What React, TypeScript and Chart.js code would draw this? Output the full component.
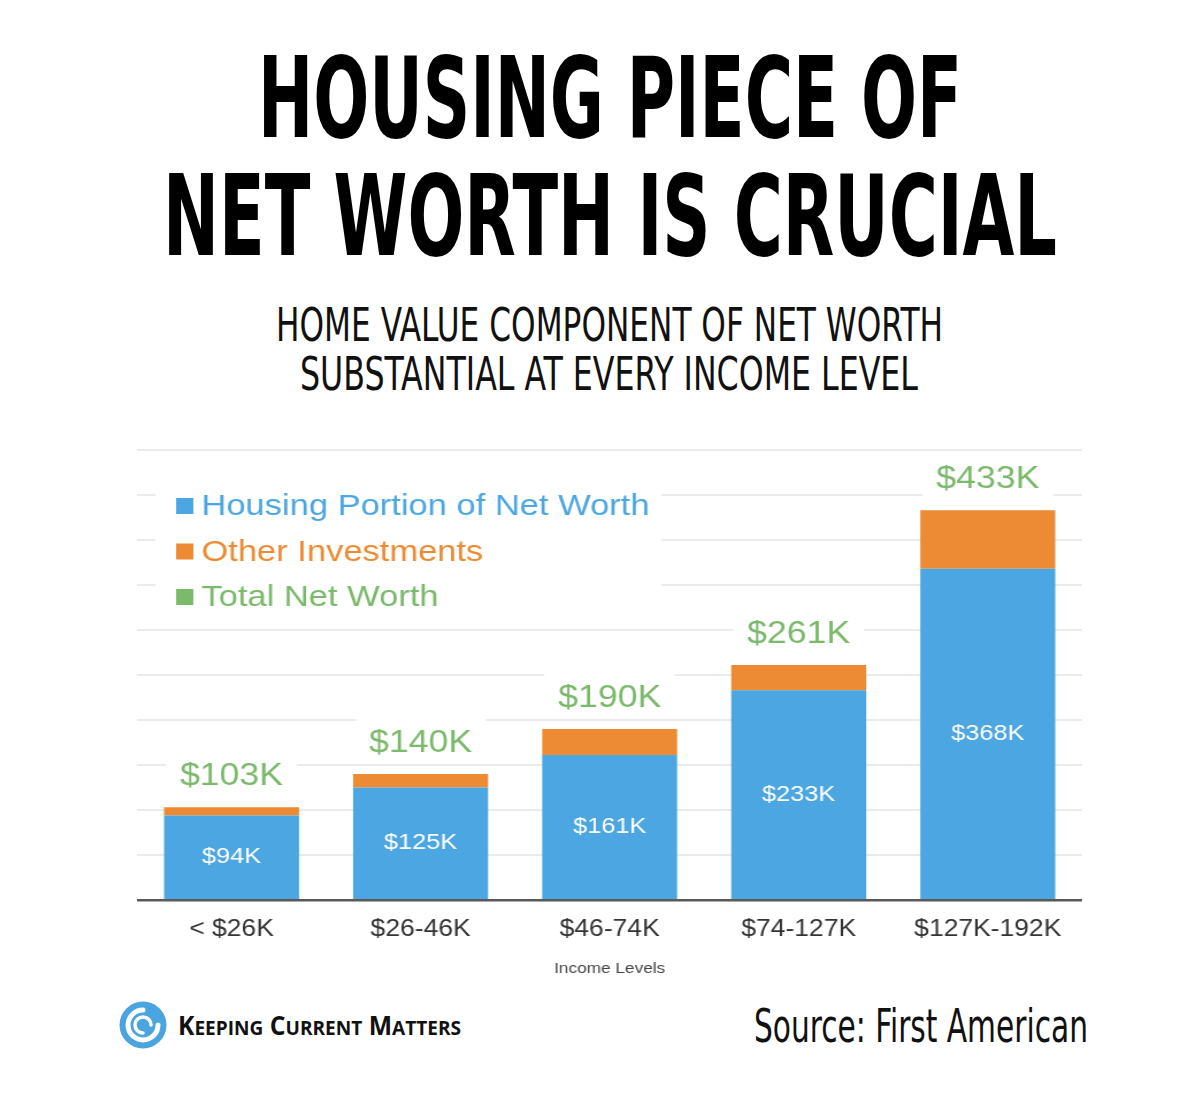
import React, { useEffect, useLayoutEffect, useRef } from "react";
import { Chart, registerables } from "chart.js";

Chart.register(...registerables);

// ---------------- data ----------------
const categories = ["< $26K", "$26-46K", "$46-74K", "$74-127K", "$127K-192K"];
const housingValues = [94, 125, 161, 233, 368];
const otherValues = [9, 15, 29, 28, 65];
const totalValues = [103, 140, 190, 261, 433];
const seriesNames = ["Housing Portion of Net Worth", "Other Investments", "Total Net Worth"];
const axisTitle = "Income Levels";
const yMin = 0;
const yMax = 500;
const yStep = 50;

const titleLines = ["HOUSING PIECE OF", "NET WORTH IS CRUCIAL"];
const subtitleLines = ["HOME VALUE COMPONENT OF NET WORTH", "SUBSTANTIAL AT EVERY INCOME LEVEL"];
const sourceText = "Source: First American";
const logoWords = ["Keeping", "Current", "Matters"];

// ---------------- styles ----------------
const BLUE = "#4ca6e2";
const ORANGE = "#ec8b34";
const GREEN = "#7bb96b";
const CHART_FONT = "'Liberation Sans', Arial, Helvetica, sans-serif";
const NARROW = "'Liberation Sans Narrow', 'DejaVu Sans Condensed', 'Liberation Sans', sans-serif";
const STRETCH = 1.15;

const fmtK = (v: number) => `$${v}K`;

const labelPlugin = {
  id: "kcmLabels",
  afterDatasetsDraw(chart: any) {
    const ctx = chart.ctx as CanvasRenderingContext2D;
    const area = chart.chartArea;
    ctx.save();

    // legend (inside plot, white backed)
    ctx.fillStyle = "#ffffff";
    ctx.fillRect(area.left + 16, area.top + 20, 440, 150);
    chart.data.datasets.forEach((ds: any, i: number) => {
      const cy = area.top + 56 + i * 45.5;
      ctx.fillStyle = ds.legendColor;
      ctx.fillRect(area.left + 34, cy - 8, 15, 16);
      ctx.font = `30px ${CHART_FONT}`;
      ctx.textBaseline = "middle";
      ctx.textAlign = "left";
      ctx.fillText(ds.label, area.left + 56, cy + 1);
    });

    // totals above stacks
    const totalMeta = chart.getDatasetMeta(2);
    const totalData = chart.data.datasets[2].data;
    totalMeta.data.forEach((pt: any, i: number) => {
      const txt = fmtK(totalData[i]);
      ctx.font = `31px ${CHART_FONT}`;
      const w = ctx.measureText(txt).width;
      const cy = pt.y - 31;
      ctx.fillStyle = "#ffffff";
      ctx.fillRect(pt.x - w / 2 - 12, cy - 27, w + 24, 45);
      ctx.fillStyle = GREEN;
      ctx.textAlign = "center";
      ctx.textBaseline = "middle";
      ctx.fillText(txt, pt.x, cy);
    });

    // housing values inside blue bars
    const hMeta = chart.getDatasetMeta(0);
    const hData = chart.data.datasets[0].data;
    hMeta.data.forEach((bar: any, i: number) => {
      const cy = (bar.y + bar.base) / 2;
      ctx.fillStyle = "#ffffff";
      ctx.font = `22px ${CHART_FONT}`;
      ctx.textAlign = "center";
      ctx.textBaseline = "middle";
      ctx.fillText(fmtK(hData[i]), bar.x, cy);
    });
    ctx.restore();
  },
};

function FitLine(props: {
  text: React.ReactNode;
  left: number;
  top: number;
  width: number;
  style: React.CSSProperties;
}) {
  const ref = useRef<HTMLDivElement>(null);
  useLayoutEffect(() => {
    const el = ref.current;
    if (!el) return;
    el.style.transform = "none";
    const w = el.getBoundingClientRect().width;
    if (w > 0) el.style.transform = `scaleX(${props.width / w})`;
  });
  return (
    <div
      ref={ref}
      style={{
        position: "absolute",
        left: props.left,
        top: props.top,
        whiteSpace: "nowrap",
        transformOrigin: "0 0",
        display: "inline-block",
        ...props.style,
      }}
    >
      {props.text}
    </div>
  );
}

function ChartBox() {
  const canvasRef = useRef<HTMLCanvasElement>(null);
  useEffect(() => {
    const canvas = canvasRef.current;
    if (!canvas) return;
    const chart = new Chart(canvas, {
      type: "bar",
      data: {
        labels: categories,
        datasets: [
          {
            label: seriesNames[0],
            data: housingValues,
            backgroundColor: BLUE,
            legendColor: BLUE,
            stack: "nw",
            barPercentage: 0.714,
            categoryPercentage: 1,
            borderWidth: 0,
          } as any,
          {
            label: seriesNames[1],
            data: otherValues,
            backgroundColor: ORANGE,
            legendColor: ORANGE,
            stack: "nw",
            barPercentage: 0.714,
            categoryPercentage: 1,
            borderWidth: 0,
          } as any,
          {
            type: "line",
            label: seriesNames[2],
            data: totalValues,
            borderColor: GREEN,
            backgroundColor: GREEN,
            legendColor: GREEN,
            stack: "total",
            showLine: false,
            pointRadius: 0,
            pointHoverRadius: 0,
            borderWidth: 0,
          } as any,
        ],
      },
      options: {
        animation: false,
        responsive: false,
        devicePixelRatio: 1,
        events: [],
        layout: { padding: { top: 10, left: 0, right: 0, bottom: 0 } },
        plugins: {
          legend: { display: false },
          tooltip: { enabled: false },
          title: { display: false },
        },
        scales: {
          x: {
            stacked: true,
            offset: true,
            grid: { display: false, drawTicks: false },
            border: { display: true, color: "#595959", width: 2.5 },
            ticks: {
              color: "#333333",
              padding: 16,
              font: { size: 23, family: CHART_FONT },
            },
            title: {
              display: true,
              text: axisTitle,
              color: "#444444",
              font: { size: 15, family: CHART_FONT },
              padding: { top: 4, bottom: 12 },
            },
            afterFit: (scale: any) => {
              scale.height = 90;
            },
          },
          y: {
            stacked: true,
            min: yMin,
            max: yMax,
            ticks: { display: false, stepSize: yStep },
            border: { display: false },
            grid: {
              drawTicks: false,
              lineWidth: 2,
              color: (c: any) => (c.tick && c.tick.value === 0 ? "rgba(0,0,0,0)" : "#ebebeb"),
            },
          },
        },
      } as any,
      plugins: [labelPlugin],
    });
    return () => chart.destroy();
  }, []);
  return (
    <div
      style={{
        position: "absolute",
        left: 137,
        top: 440,
        width: 822,
        height: 550,
        transform: `scaleX(${STRETCH})`,
        transformOrigin: "0 0",
      }}
    >
      <canvas ref={canvasRef} width={822} height={550} />
    </div>
  );
}

function Logo() {
  return (
    <svg
      width={50}
      height={50}
      viewBox="0 0 50 50"
      style={{ position: "absolute", left: 118, top: 1000 }}
    >
      <circle cx={25} cy={25} r={23.5} fill="#4aa4e0" />
      <path
        d="M 25 10 A 15 15 0 1 0 40 25"
        stroke="#ffffff"
        strokeWidth={5}
        fill="none"
        strokeLinecap="round"
      />
      <path
        d="M 33 25 A 8 8 0 1 0 25 33"
        stroke="#ffffff"
        strokeWidth={3.5}
        fill="none"
        strokeLinecap="round"
      />
    </svg>
  );
}

export default function App() {
  const titleStyle: React.CSSProperties = {
    fontFamily: NARROW,
    fontWeight: 700,
    fontSize: 112,
    lineHeight: "112px",
    color: "#000000",
  };
  const subStyle: React.CSSProperties = {
    fontFamily: NARROW,
    fontWeight: 400,
    fontSize: 46,
    lineHeight: "46px",
    color: "#111111",
  };
  return (
    <div
      style={{
        position: "absolute",
        left: 0,
        top: 0,
        width: 1200,
        height: 1099,
        background: "#ffffff",
        overflow: "hidden",
      }}
    >
      <FitLine text={titleLines[0]} left={258} top={42} width={704} style={titleStyle} />
      <FitLine text={titleLines[1]} left={163} top={160} width={894} style={titleStyle} />
      <FitLine text={subtitleLines[0]} left={276} top={302} width={667} style={subStyle} />
      <FitLine text={subtitleLines[1]} left={300} top={351} width={618} style={subStyle} />

      <ChartBox />

      <Logo />
      <FitLine
        left={178}
        top={1012}
        width={283}
        style={{
          fontFamily: "'Open Sans', 'Noto Sans', sans-serif",
          fontWeight: 700,
          fontSize: 26,
          lineHeight: "26px",
          color: "#111111",
        }}
        text={logoWords.map((w, i) => (
          <span key={i}>
            {w[0].toUpperCase()}
            <span style={{ fontSize: 20 }}>{w.slice(1).toUpperCase()}</span>
            {i < logoWords.length - 1 ? " " : ""}
          </span>
        ))}
      />
      <FitLine
        text={sourceText}
        left={754}
        top={1003}
        width={334}
        style={{
          fontFamily: NARROW,
          fontWeight: 400,
          fontSize: 46,
          lineHeight: "46px",
          color: "#111111",
        }}
      />
    </div>
  );
}
